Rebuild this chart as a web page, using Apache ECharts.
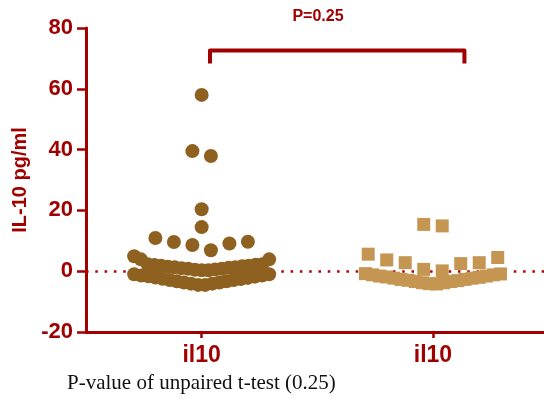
<!DOCTYPE html>
<html>
<head>
<meta charset="utf-8">
<script src="https://cdn.jsdelivr.net/npm/echarts@6/dist/echarts.min.js"></script>
<style>
html,body{margin:0;padding:0;background:#fff;}
#chart{width:544px;height:405px;}
</style>
</head>
<body>
<div id="chart"></div>
<script>
// ---- data ----
const categories = ['il10', 'il10'];
const group1Values = [
  // dense lower band
  -4.5, -4.5, -4.1, -4.1, -3.7, -3.7, -3.3, -3.3, -2.9, -2.9,
  -2.6, -2.5, -2.2, -2.1, -1.8, -1.7, -1.4, -1.4, -1.0, -1.0,
  // dense upper band
  0.3, 0.3, 0.5, 0.6, 0.8, 0.8, 1.0, 1.1, 1.3, 1.3,
  1.5, 1.6, 1.8, 1.8, 2.0, 2.1, 2.3, 2.3, 3.9, 3.9,
  // scattered
  4.9, 6.9, 8.6, 9.1, 9.6, 9.7, 10.9, 14.5, 20.4, 37.9, 39.5, 58.0
];
const group2Values = [
  -4.2, -4.1, -3.8, -3.8, -3.4, -3.4, -3.1, -3.0, -2.7, -2.7,
  -2.3, -2.3, -2.0, -1.9, -1.6, -1.6, -1.2, -1.2, -0.9, -0.8,
  0.1, 0.6, 2.5, 2.8, 2.8, 3.7, 4.5, 5.6, 14.9, 15.4
];
const yMin = -20, yMax = 80, yInterval = 20;
const pLabel = 'P=0.25';
const captionText = 'P-value of unpaired t-test (0.25)';
const yName = 'IL-10 pg/ml';
const bracketX = [1.036, 2.136];
const bracketY = [68.3, 72.6];

// ---- layout constants ----
const RED = '#A00000';
const xMin = 0.5, xMax = 2.48;
const gridLeft = 86, gridRight = 0, gridTop = 28, gridBottom = 73;
const gridW = 544 - gridLeft - gridRight;
const pxPerX = gridW / (xMax - xMin);
const rowH = 6.4, rowOrigin = -0.65, slot = 18.5, maxSpan = 135;

// Prism-like row scatter: bin values in rows, spread each row centre-out
function swarm(values, center) {
  const rows = {};
  values.forEach(v => {
    const r = Math.floor((v - rowOrigin) / rowH);
    (rows[r] = rows[r] || []).push(v);
  });
  const pts = [];
  Object.keys(rows).forEach(k => {
    const row = rows[k].slice().sort((a, b) => a - b);
    const n = row.length;
    const s = n > 1 ? Math.min(slot, maxSpan / (n - 1)) : 0;
    row.forEach((v, i) => {
      let off;
      if (n % 2 === 1) {
        if (i === 0) off = 0;
        else off = (i % 2 === 1 ? 1 : -1) * Math.ceil(i / 2) * s;
      } else {
        off = (i % 2 === 0 ? 1 : -1) * (Math.floor(i / 2) + 0.5) * s;
      }
      pts.push([center + off / pxPerX, v]);
    });
  });
  return pts;
}

const chart = echarts.init(document.getElementById('chart'), null, {renderer: 'canvas'});
const font = '"Liberation Sans", Arial, sans-serif';

chart.setOption({
  animation: false,
  backgroundColor: '#fff',
  grid: {left: gridLeft, right: gridRight, top: gridTop, bottom: gridBottom, containLabel: false, outerBoundsMode: 'none'},
  xAxis: {
    type: 'value', min: xMin, max: xMax,
    splitLine: {show: false},
    axisLine: {show: true, onZero: false, lineStyle: {color: RED, width: 3}},
    axisTick: {show: true, customValues: [1, 2], length: 6, lineStyle: {color: RED, width: 2.5}},
    axisLabel: {
      show: true, customValues: [1, 2], margin: 12,
      color: RED, fontSize: 23, fontWeight: 'bold', fontFamily: font,
      formatter: v => categories[Math.round(v) - 1] || ''
    }
  },
  yAxis: {
    type: 'value', min: yMin, max: yMax, interval: yInterval,
    name: yName, nameLocation: 'middle', nameGap: 55,
    nameTextStyle: {color: RED, fontSize: 20, fontWeight: 'bold', fontFamily: font},
    splitLine: {show: false},
    axisLine: {show: true, onZero: false, lineStyle: {color: RED, width: 3}},
    axisTick: {show: true, length: 9, lineStyle: {color: RED, width: 2.5}},
    axisLabel: {margin: 13, color: RED, fontSize: 22, fontWeight: 'bold', fontFamily: font}
  },
  graphic: [
    {type: 'text', x: 318, y: 17, z: 10,
     style: {text: pLabel, fill: RED, font: 'bold 16px "Liberation Sans", Arial, sans-serif', align: 'center', verticalAlign: 'middle'}},
    {type: 'text', x: 67, y: 383, z: 10,
     style: {text: captionText, fill: '#111', font: '21px "Liberation Serif", "Times New Roman", serif', align: 'left', verticalAlign: 'middle'}}
  ],
  series: [
    {
      type: 'line', data: [], z: 1, silent: true,
      markLine: {
        silent: true, symbol: ['none', 'none'], z: 1,
        label: {show: false},
        lineStyle: {color: '#B00000', width: 2.5, type: [2.5, 6.8], opacity: 1},
        data: [{yAxis: 0}]
      }
    },
    {
      type: 'scatter', z: 3, symbol: 'circle', symbolSize: 14,
      itemStyle: {color: '#8E6121', opacity: 1},
      data: swarm(group1Values, 1)
    },
    {
      type: 'scatter', z: 3, symbol: 'rect', symbolSize: 13,
      itemStyle: {color: '#C59652', opacity: 1},
      data: swarm(group2Values, 2)
    },
    {
      type: 'line', z: 4, silent: true, symbol: 'none',
      lineStyle: {color: RED, width: 4, join: 'round', cap: 'butt'},
      data: [[bracketX[0], bracketY[0]], [bracketX[0], bracketY[1]], [bracketX[1], bracketY[1]], [bracketX[1], bracketY[0]]]
    }
  ]
});
</script>
</body>
</html>
